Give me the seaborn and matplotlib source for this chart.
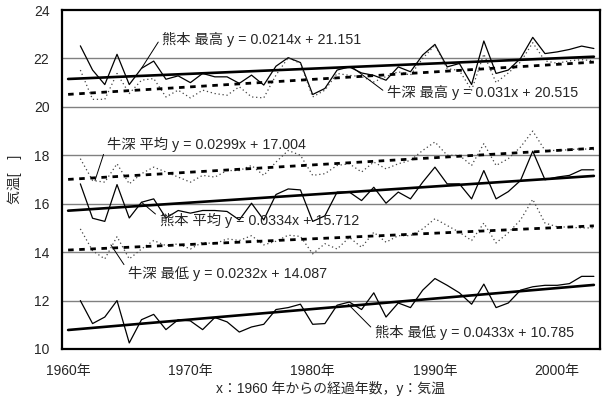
import matplotlib
matplotlib.use("Agg")
import matplotlib.pyplot as plt
import pandas as pd
import seaborn as sns

# 年ごとの気温 (1961-2003)
years = list(range(1961, 2004))

kumamoto_max = [22.52, 21.52, 20.92, 22.17, 20.92, 21.59, 21.89, 21.14, 21.28, 21.00,
                21.38, 21.24, 21.24, 20.97, 21.31, 20.90, 21.68, 22.03, 21.83, 20.51,
                20.76, 21.52, 21.65, 21.40, 21.30, 21.10, 21.65, 21.45, 22.14, 22.58,
                21.65, 21.79, 20.92, 22.72, 21.38, 21.52, 22.00, 22.87, 22.20, 22.27,
                22.37, 22.51, 22.41]
ushibuka_max = [21.52, 20.31, 20.31, 21.38, 20.55, 21.10, 21.17, 20.41, 20.69, 20.37,
                20.69, 20.55, 20.48, 20.83, 20.41, 20.37, 21.31, 22.03, 21.79, 20.41,
                20.69, 21.38, 21.30, 21.25, 21.03, 21.25, 21.45, 21.31, 22.00, 22.55,
                21.58, 21.50, 20.69, 22.18, 21.00, 21.40, 21.85, 22.65, 21.90, 21.80,
                21.90, 21.95, 21.90]
ushibuka_avg = [17.86, 16.96, 16.89, 17.65, 16.82, 17.24, 17.51, 17.31, 17.10, 16.89,
                17.17, 17.10, 17.37, 17.37, 17.58, 17.17, 17.72, 18.20, 18.00, 17.17,
                17.24, 17.58, 17.65, 17.31, 17.72, 17.44, 17.65, 17.79, 18.20, 18.55,
                18.00, 18.00, 17.58, 18.48, 17.58, 17.86, 18.34, 19.00, 18.20, 18.20,
                18.23, 18.27, 18.23]
kumamoto_avg = [16.82, 15.40, 15.27, 16.79, 15.41, 16.06, 16.20, 15.41, 15.72, 15.61,
                15.72, 15.72, 15.68, 15.33, 16.02, 15.33, 16.38, 16.61, 16.57, 15.27,
                15.50, 16.48, 16.48, 16.13, 16.68, 16.02, 16.48, 16.20, 16.89, 17.51,
                16.82, 16.82, 16.20, 17.37, 16.20, 16.50, 16.96, 18.17, 16.99, 17.10,
                17.17, 17.40, 17.40]
ushibuka_min = [14.96, 14.06, 13.72, 14.64, 13.72, 14.13, 14.48, 14.27, 14.34, 14.13,
                14.41, 14.34, 14.55, 14.48, 14.68, 14.30, 14.45, 14.70, 14.65, 13.93,
                14.35, 14.13, 14.61, 14.20, 14.82, 14.41, 14.68, 14.68, 14.96, 15.38,
                15.10, 14.82, 14.48, 15.20, 14.38, 14.80, 15.33, 16.18, 15.20, 15.05,
                15.03, 15.00, 15.00]
kumamoto_min = [12.00, 11.05, 11.32, 12.00, 10.25, 11.21, 11.43, 10.80, 11.21, 11.16,
                10.80, 11.30, 11.12, 10.70, 10.91, 11.02, 11.63, 11.71, 11.85, 11.02,
                11.05, 11.81, 11.94, 11.63, 12.32, 11.32, 11.90, 11.71, 12.43, 12.91,
                12.63, 12.32, 11.85, 12.68, 11.71, 11.90, 12.43, 12.57, 12.63, 12.63,
                12.70, 13.00, 13.00]

series_names = ["熊本 最高", "牛深 最高", "牛深 平均", "熊本 平均", "牛深 最低", "熊本 最低"]
series_values = [kumamoto_max, ushibuka_max, ushibuka_avg, kumamoto_avg, ushibuka_min, kumamoto_min]

# 近似直線 y = a x + b (x: 1960年からの経過年数)
trend_slope = [0.0214, 0.031, 0.0299, 0.0334, 0.0232, 0.0433]
trend_icpt = [21.151, 20.515, 17.004, 15.712, 14.087, 10.785]
trend_years = [1960, 2003]

y_ticks = [10, 12, 14, 16, 18, 20, 22, 24]
x_label_years = [1960, 1970, 1980, 1990, 2000]

sns.set_style("white")
plt.rcParams['font.family'] = ['Liberation Sans', 'Noto Sans CJK JP']
plt.rcParams['font.size'] = 10

fig = plt.figure(figsize=(6.06, 4.01), dpi=100, facecolor="white")
ax = fig.add_axes([62 / 606, 1 - 349 / 401, 538 / 606, 339 / 401])

for g in y_ticks[1:-1]:
    ax.axhline(g, color="#808080", lw=1.0, zorder=1)

rows = []
for name, vals in zip(series_names, series_values):
    for yr, v in zip(years, vals):
        rows.append({"year": yr, "temp": v, "series": name})
df = pd.DataFrame(rows)

for name, group in df.groupby("series", sort=False):
    if name.startswith("熊本"):
        sns.lineplot(data=group, x="year", y="temp", ax=ax, color="black",
                     lw=0.9, zorder=3)
    else:
        sns.lineplot(data=group, x="year", y="temp", ax=ax, color="#444444",
                     lw=0.9, linestyle=(0, (1, 2.2)), zorder=3)

for name, a, b in zip(series_names, trend_slope, trend_icpt):
    ty = [a * (yr - 1960) + b for yr in trend_years]
    if name.startswith("熊本"):
        sns.lineplot(x=trend_years, y=ty, ax=ax, color="black", lw=1.9, zorder=4)
    else:
        sns.lineplot(x=trend_years, y=ty, ax=ax, color="black", lw=2.0,
                     linestyle=(0, (2, 2)), zorder=4)

# ラベル位置と引き出し線の先
label_pos = [(1967.7, 22.78), (1986.1, 20.58), (1963.2, 18.44),
             (1967.5, 15.30), (1964.9, 13.11), (1985.1, 10.67)]
leader_to = [(1966.0, 21.59), (1983.2, 21.65), (1962.2, 16.96),
             (1966.0, 16.06), (1963.5, 14.30), (1982.9, 11.85)]
leader_rel = [0.75, 0.45, 0.6, 0.7, 0.7, 0.6]

for name, a, b, tp, lp, rp in zip(series_names, trend_slope, trend_icpt,
                                  label_pos, leader_to, leader_rel):
    ax.annotate(f"{name} y = {a}x + {b}", xy=lp, xytext=tp, ha="left", va="center",
                fontsize=10.3, zorder=5,
                arrowprops=dict(arrowstyle="-", color="black", lw=0.7,
                                shrinkA=1, shrinkB=0, relpos=(0, rp)))

ax.set_xlim(1959.5, 2003.5)
ax.set_ylim(10, 24)
ax.set_yticks(y_ticks)
ax.set_xticks(x_label_years)
ax.set_xticklabels([f"{y}年" for y in x_label_years])
ax.set_xticks([1964.5, 1969.5, 1974.5, 1979.5, 1984.5, 1989.5, 1994.5, 1999.5], minor=True)
ax.tick_params(axis="x", which="major", length=0, pad=11, labelsize=10)
ax.tick_params(axis="x", which="minor", direction="in", length=4, width=1, color="black")
ax.tick_params(axis="y", length=0, pad=9, labelsize=10)

for sp in ax.spines.values():
    sp.set_visible(True)
    sp.set_color("black")
    sp.set_linewidth(1.6)

ax.set_xlabel("x：1960 年からの経過年数，y：気温", fontsize=10, labelpad=2)
ax.set_ylabel("気温[　]", fontsize=10)
ax.yaxis.set_label_coords(-0.075, 0.5)

fig.savefig("out.png", dpi=100, facecolor="white")
